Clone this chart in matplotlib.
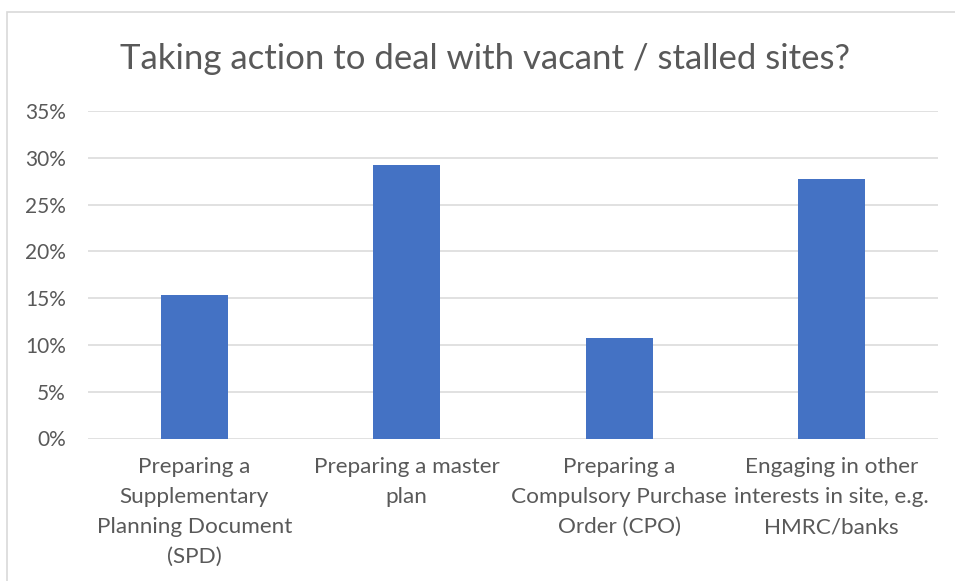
import matplotlib.pyplot as plt
from matplotlib.ticker import PercentFormatter
from matplotlib.patches import Rectangle

categories = ['Preparing a\nSupplementary\nPlanning Document\n(SPD)',
              'Preparing a master\nplan',
              'Preparing a\nCompulsory Purchase\nOrder (CPO)',
              'Engaging in other\ninterests in site, e.g.\nHMRC/banks']
values = [0.1538, 0.2923, 0.1077, 0.2769]
yticks = [0, 0.05, 0.10, 0.15, 0.20, 0.25, 0.30, 0.35]

txt = '#595959'
plt.rcParams['font.family'] = ['Lato', 'DejaVu Sans']

fig = plt.figure(figsize=(9.55, 5.81), dpi=100)
ax = fig.add_axes([88/955, 142.5/581, 850/955, 327.5/581])

x = range(len(values))
ax.bar(x, values, width=0.315, color='#4472C4', zorder=3)

ax.set_xlim(-0.5, 3.5)
ax.set_ylim(0, 0.35)
ax.set_yticks(yticks)
ax.yaxis.set_major_formatter(PercentFormatter(1.0, decimals=0))
ax.grid(axis='y', color='#D9D9D9', linewidth=1.1, zorder=0)
for s in ax.spines.values():
    s.set_visible(False)
ax.tick_params(axis='y', length=0, pad=16, labelsize=15, labelcolor=txt)
ax.tick_params(axis='x', length=0, pad=13, labelsize=16.2, labelcolor=txt)
ax.set_xticks(list(x))
ax.set_xticklabels(categories, linespacing=1.64)

fig.text(485.5/955, 1 - 69/581, 'Taking action to deal with vacant / stalled sites?',
         ha='center', va='baseline', fontsize=25, color=txt)

# chart frame (only left and top edges fall inside the picture)
fig.patches.append(Rectangle((7/955, -0.1), 1.2, 1 - 12/581 + 0.1,
                             transform=fig.transFigure, fill=False,
                             edgecolor='#D9D9D9', linewidth=1.2))

fig.savefig('out.png', dpi=100)
